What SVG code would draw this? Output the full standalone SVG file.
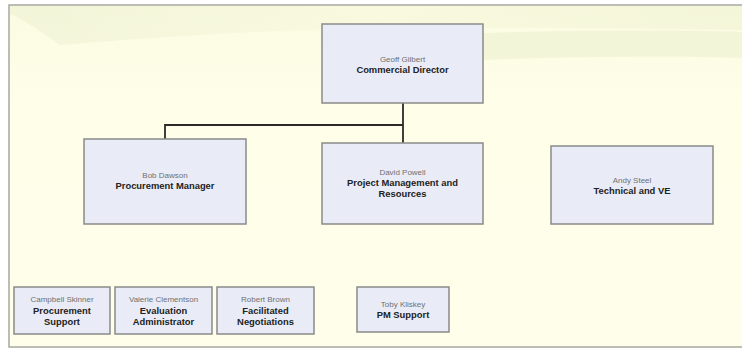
<svg xmlns="http://www.w3.org/2000/svg" width="742" height="350" viewBox="0 0 742 350">
<defs>
<linearGradient id="bg" x1="0" y1="0" x2="0" y2="1">
<stop offset="0" stop-color="#fbfbe2"/>
<stop offset="0.3" stop-color="#fffee9"/>
<stop offset="1" stop-color="#fffeea"/>
</linearGradient>
<linearGradient id="sw" x1="0" y1="0" x2="1" y2="0">
<stop offset="0" stop-color="#e4ebc8" stop-opacity="0.8"/>
<stop offset="0.5" stop-color="#eef2d2" stop-opacity="0.5"/>
<stop offset="1" stop-color="#e8eec8" stop-opacity="0.8"/>
</linearGradient>
<style>
.box{fill:#e9ecf7;stroke:#8a8a8a;stroke-width:1.5}
.nm{font-family:"Liberation Sans",Arial,sans-serif;font-size:8px;fill:#707070;text-anchor:middle}
.tt{font-family:"Liberation Sans",Arial,sans-serif;font-size:9.4px;font-weight:bold;fill:#222;text-anchor:middle}
.ln{stroke:#2a2a2a;stroke-width:1.8;fill:none}
</style>
</defs>
<rect x="0" y="0" width="742" height="350" fill="#ffffff"/>
<rect x="9" y="5" width="740" height="342" fill="url(#bg)" stroke="#a8a8a0" stroke-width="1.5"/>
<path d="M10 6 L742 6 L742 30 C600 28 450 26 300 30 C200 34 120 40 60 45 C40 30 20 18 10 14 Z" fill="url(#sw)" opacity="0.5"/>
<path d="M480 33 C580 30 680 30 742 32 L742 58 C680 56 580 56 480 60 Z" fill="#e6edc8" opacity="0.45"/>
<g id="connectors">
<path class="ln" d="M403 103 V143"/>
<path class="ln" d="M165 125 H403"/>
<path class="ln" d="M165 124 V139"/>
</g>
<g id="geoff">
<rect class="box" x="322" y="24" width="161" height="79"/>
<text class="nm" x="402.5" y="62">Geoff Gilbert</text>
<text class="tt" x="402.5" y="72.5">Commercial Director</text>
</g>
<g id="bob">
<rect class="box" x="84" y="139" width="162" height="85"/>
<text class="nm" x="165" y="178">Bob Dawson</text>
<text class="tt" x="165" y="189">Procurement Manager</text>
</g>
<g id="david">
<rect class="box" x="322" y="143" width="161" height="81"/>
<text class="nm" x="402.5" y="175">David Powell</text>
<text class="tt" x="402.5" y="186">Project Management and</text>
<text class="tt" x="402.5" y="197">Resources</text>
</g>
<g id="andy">
<rect class="box" x="551" y="146" width="162" height="78"/>
<text class="nm" x="632" y="183">Andy Steel</text>
<text class="tt" x="632" y="194">Technical and VE</text>
</g>
<g id="campbell">
<rect class="box" x="14" y="287" width="96" height="47"/>
<text class="nm" x="62" y="302">Campbell Skinner</text>
<text class="tt" x="62" y="314">Procurement</text>
<text class="tt" x="62" y="325">Support</text>
</g>
<g id="valerie">
<rect class="box" x="115" y="287" width="97" height="47"/>
<text class="nm" x="163.5" y="302">Valerie Clementson</text>
<text class="tt" x="163.5" y="314">Evaluation</text>
<text class="tt" x="163.5" y="325">Administrator</text>
</g>
<g id="robert">
<rect class="box" x="217" y="287" width="97" height="47"/>
<text class="nm" x="265.5" y="302">Robert Brown</text>
<text class="tt" x="265.5" y="314">Facilitated</text>
<text class="tt" x="265.5" y="325">Negotiations</text>
</g>
<g id="toby">
<rect class="box" x="357" y="287" width="92" height="45"/>
<text class="nm" x="403" y="307">Toby Kliskey</text>
<text class="tt" x="403" y="318">PM Support</text>
</g>
</svg>
